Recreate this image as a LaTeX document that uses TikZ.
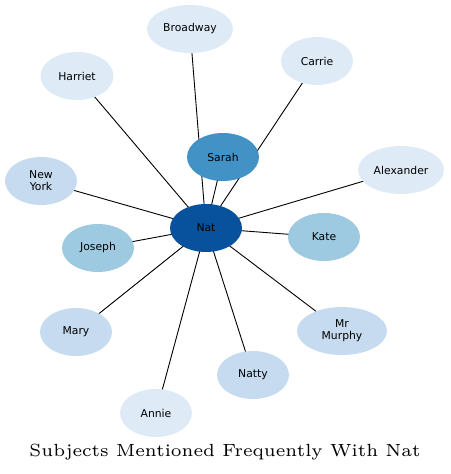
\documentclass[tikz,border=0pt]{standalone}
\usepackage{fontspec}
\newfontfamily\nodefont{DejaVu Sans}
\newfontfamily\titlefont{lmroman6-regular.otf}
\usepackage{tikz}
\usetikzlibrary{shapes.geometric,backgrounds}

\definecolor{blueA}{HTML}{08519C}
\definecolor{blueB}{HTML}{4292C6}
\definecolor{blueC}{HTML}{9ECAE1}
\definecolor{blueD}{HTML}{C6DBEF}
\definecolor{blueE}{HTML}{DEEBF7}

\tikzset{
  person/.style={ellipse,minimum width=72pt,minimum height=48pt,inner sep=0pt,
    align=center,font=\nodefont\fontsize{10.8}{12}\selectfont},
  link/.style={black,line width=0.9pt}
}

\begin{document}
\begin{tikzpicture}[x=1pt,y=-1pt]
  \useasboundingbox (0,0) rectangle (450,474);
  \node[person,fill=blueA] (nat) at (206,228) {Nat};
  \node[person,fill=blueB] (sarah) at (223,157) {Sarah};
  \node[person,fill=blueE,minimum width=86pt] (broadway) at (190,29) {Broadway};
  \node[person,fill=blueE,minimum width=73pt] (harriet) at (77,76) {Harriet};
  \node[person,fill=blueE] (carrie) at (317,61) {Carrie};
  \node[person,fill=blueE,minimum width=86pt] (alexander) at (401,170) {Alexander};
  \node[person,fill=blueD] (newyork) at (41,181) {New\\York};
  \node[person,fill=blueC] (kate) at (324,237) {Kate};
  \node[person,fill=blueC] (joseph) at (98,248) {Joseph};
  \node[person,fill=blueD] (mary) at (76,332) {Mary};
  \node[person,fill=blueD,minimum width=90pt] (murphy) at (342,331) {Mr\\Murphy};
  \node[person,fill=blueD] (natty) at (253,375) {Natty};
  \node[person,fill=blueE] (annie) at (156,413) {Annie};
  % edges sit under the ellipses
  \begin{scope}[on background layer]
    \foreach \n in {sarah,broadway,harriet,carrie,alexander,newyork,kate,joseph,mary,murphy,natty,annie}
      {\draw[link] (nat.center) -- (\n.center);}
  \end{scope}
  \node[font=\titlefont\fontsize{17.6}{20}\selectfont] (title) at (225,452) {Subjects Mentioned Frequently With Nat};
\end{tikzpicture}
\end{document}
